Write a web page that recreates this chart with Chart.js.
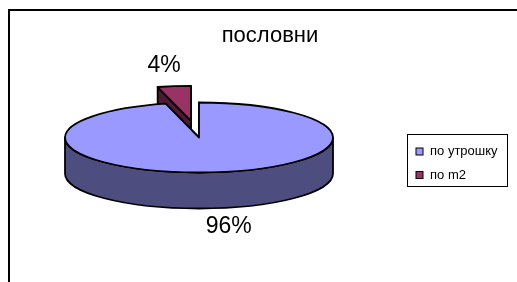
<!DOCTYPE html>
<html>
<head>
<meta charset="utf-8">
<script src="https://cdn.jsdelivr.net/npm/chart.js@4.4.1/dist/chart.umd.min.js"></script>
<style>
    html, body { margin: 0; padding: 0; background: #fff; }
    #wrap { width: 517px; height: 282px; }
</style>
</head>
<body>
<div id="wrap"><canvas id="pieChart" width="517" height="282"></canvas></div>
<script>
// Chart data
const chartTitle = 'пословни';
const labels = ['по утрошку', 'по m2'];
const values = [96, 4];
const topColors = ['#9999FF', '#993366'];
const sideColors = ['#4D4D80', '#4D1A33'];
const explode = [0, 64];

// 3D look
const TILT = 35 / 134;
const DEPTH = 36;
const FONT = '"Liberation Sans", Arial, sans-serif';
const labelShift = [[13, 18], [-10, -21]];

function piece(ctx, item) {
    const { cx, cy, r, s, e, i } = item;
    const ry = r * TILT;
    ctx.lineWidth = 1.8;
    ctx.strokeStyle = '#000';
    ctx.lineJoin = 'round';

    // radial faces
    [s, e].forEach(a => {
        const px = cx + r * Math.cos(a);
        const py = cy + ry * Math.sin(a);
        ctx.beginPath();
        ctx.moveTo(cx, cy);
        ctx.lineTo(px, py);
        ctx.lineTo(px, py + DEPTH);
        ctx.lineTo(cx, cy + DEPTH);
        ctx.closePath();
        ctx.fillStyle = sideColors[i];
        ctx.fill();
        ctx.stroke();
    });

    // outer wall, front half only
    for (let k = -1; k <= 2; k++) {
        const a0 = Math.max(s, k * 2 * Math.PI);
        const a1 = Math.min(e, k * 2 * Math.PI + Math.PI);
        if (a1 <= a0) continue;
        ctx.beginPath();
        ctx.ellipse(cx, cy, r, ry, 0, a0, a1);
        ctx.lineTo(cx + r * Math.cos(a1), cy + ry * Math.sin(a1) + DEPTH);
        ctx.ellipse(cx, cy + DEPTH, r, ry, 0, a1, a0, true);
        ctx.closePath();
        ctx.fillStyle = sideColors[i];
        ctx.fill();
        ctx.stroke();
    }

    // top face
    ctx.beginPath();
    ctx.moveTo(cx, cy);
    ctx.ellipse(cx, cy, r, ry, 0, s, e);
    ctx.closePath();
    ctx.fillStyle = topColors[i];
    ctx.fill();
    ctx.stroke();
}

const pie3d = {
    id: 'pie3d',
    beforeDatasetsDraw(chart) {
        const ctx = chart.ctx;
        const arcs = chart.getDatasetMeta(0).data;
        const items = arcs.map((arc, i) => {
            const p = arc.getProps(['x', 'y', 'startAngle', 'endAngle', 'outerRadius'], true);
            const mid = (p.startAngle + p.endAngle) / 2;
            return {
                i,
                mid,
                cx: p.x + Math.cos(mid) * explode[i],
                cy: p.y + Math.sin(mid) * explode[i] * TILT,
                r: p.outerRadius,
                s: p.startAngle,
                e: p.endAngle
            };
        });
        ctx.save();
        // back pieces first
        [...items].sort((a, b) => a.cy - b.cy).forEach(item => piece(ctx, item));

        // percentage labels
        const total = values.reduce((a, b) => a + b, 0);
        ctx.fillStyle = '#000';
        ctx.font = '23px ' + FONT;
        ctx.textAlign = 'center';
        ctx.textBaseline = 'middle';
        items.forEach(it => {
            const x = it.cx + it.r * Math.cos(it.mid);
            let y = it.cy + it.r * TILT * Math.sin(it.mid);
            if (Math.sin(it.mid) > 0) y += DEPTH;
            const pct = Math.round(values[it.i] / total * 100) + '%';
            ctx.fillText(pct, x + labelShift[it.i][0], y + labelShift[it.i][1]);
        });
        ctx.restore();
        return false;
    },
    afterDraw(chart) {
        const ctx = chart.ctx;
        ctx.save();
        // outer frame
        ctx.strokeStyle = '#000';
        ctx.lineWidth = 2;
        ctx.strokeRect(9, 10, 600, 400);

        // title
        ctx.fillStyle = '#000';
        ctx.font = '22px ' + FONT;
        ctx.textAlign = 'center';
        ctx.textBaseline = 'middle';
        ctx.fillText(chartTitle, 270, 36);

        // legend box
        ctx.lineWidth = 1;
        ctx.strokeRect(407.5, 134.5, 100, 52);
        ctx.font = '13px ' + FONT;
        ctx.textAlign = 'left';
        const rows = [151.5, 175];
        labels.forEach((lab, i) => {
            ctx.fillStyle = topColors[i];
            ctx.fillRect(416, rows[i] - 3.5, 7, 7);
            ctx.strokeRect(416, rows[i] - 3.5, 7, 7);
            ctx.fillStyle = '#000';
            ctx.fillText(lab, 430, rows[i]);
        });
        ctx.restore();
    }
};

const ctx = document.getElementById('pieChart').getContext('2d');
const chart = new Chart(ctx, {
    type: 'pie',
    data: {
        labels: labels,
        datasets: [{
            data: values,
            backgroundColor: topColors,
            borderWidth: 0
        }]
    },
    options: {
        responsive: false,
        animation: false,
        radius: 134,
        layout: {
            padding: { left: 0, right: 119, top: 1, bottom: 8 }
        },
        plugins: {
            legend: { display: false },
            tooltip: { enabled: false }
        }
    },
    plugins: [pie3d]
});
</script>
</body>
</html>
